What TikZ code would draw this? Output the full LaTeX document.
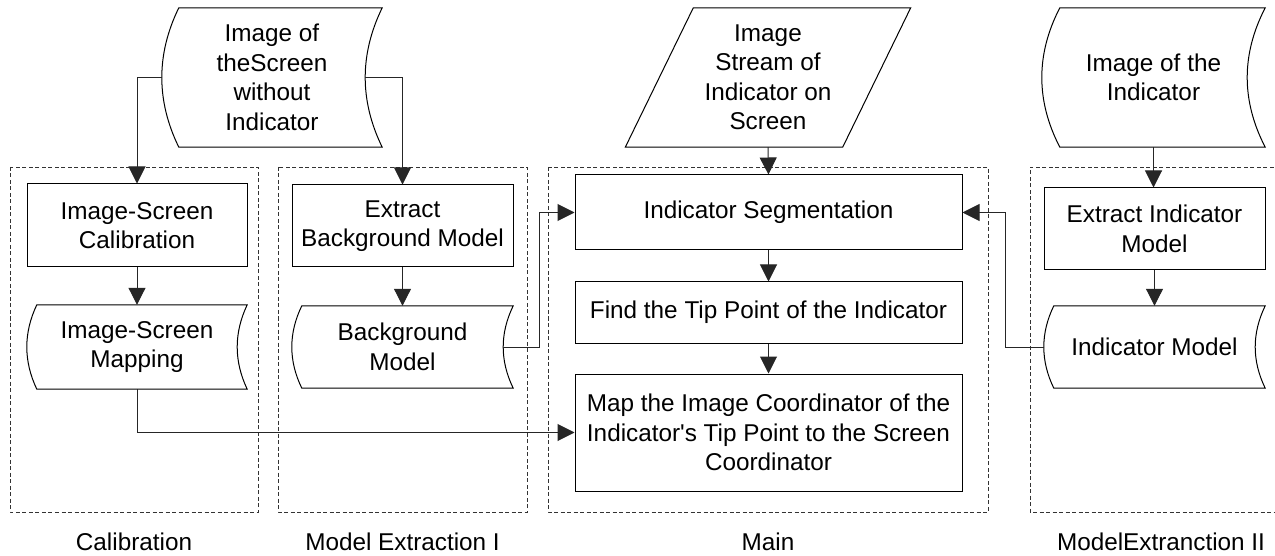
\documentclass[tikz,border=0pt]{standalone}
\usepackage{fontspec}
\setmainfont{Liberation Sans}[Ligatures=TeXOff]
\usetikzlibrary{calc,arrows.meta}
\newcommand\sdoutline[2]{%
  \draw[shapeline] ($(#1.north west)+(#2,0)$) -- (#1.north east)
    .. controls ($(#1.north east)!1/3!(#1.south east)+(-4/3*#2,0)$)
       and ($(#1.north east)!2/3!(#1.south east)+(-4/3*#2,0)$) .. (#1.south east)
    -- ($(#1.south west)+(#2,0)$)
    .. controls ($(#1.south west)!1/3!(#1.north west)+(-1/3*#2,0)$)
       and ($(#1.south west)!2/3!(#1.north west)+(-1/3*#2,0)$) .. cycle;}
\begin{document}
\begin{tikzpicture}[x=1pt,y=-1pt,
  font=\fontsize{24.3}{29.5}\selectfont,
  shapeline/.style={draw=black,line width=1pt},
  procbox/.style={draw=black,line width=1pt,inner sep=0pt,align=center},
  textbox/.style={inner sep=0pt,align=center},
  conn/.style={draw=black!85,line width=1pt,-{Triangle[length=17pt,width=17pt]}},
  container/.style={draw=black!80,line width=0.9pt,dash pattern=on 4pt off 2.5pt},
  grouplabel/.style={inner sep=0pt,anchor=base}]
\useasboundingbox (0,0) rectangle (1275,556);

% containers
\draw[container] (10,167) rectangle (258,512);
\draw[container] (278,167) rectangle (527,512);
\draw[container] (548,167) rectangle (988,512);
\draw[container] (1280,167) -| (1030,512) -- (1280,512);

% group labels
\node[grouplabel] (lcal) at (134,550) {Calibration};
\node[grouplabel] (lme1) at (402.5,550) {Model Extraction I};
\node[grouplabel] (lmain) at (768,550) {Main};
\node[grouplabel] (lme2) at (1161,550) {ModelExtranction II};

% stored data / inputs
\node[textbox,minimum width=220pt,minimum height=139pt] (scr) at (272,77.5)
  {Image of\\theScreen\\without\\Indicator};
\sdoutline{scr}{17}
\node[textbox,minimum width=220pt,minimum height=84pt] (mapping) at (137,347)
  {Image-Screen\\Mapping};
\sdoutline{mapping}{10}
\node[textbox,minimum width=221pt,minimum height=82pt] (bgm) at (402.5,347)
  {Background\\Model};
\sdoutline{bgm}{10}
\node[textbox,minimum width=223pt,minimum height=139pt] (imgind) at (1153.5,77.5)
  {Image of the\\Indicator};
\sdoutline{imgind}{18}
\node[textbox,minimum width=221pt,minimum height=82pt] (indm) at (1154.5,347)
  {Indicator Model};
\sdoutline{indm}{10}

\node[textbox,minimum width=285pt,minimum height=139pt] (stream) at (768,77.5)
  {Image\\Stream of\\Indicator on\\Screen};
\draw[shapeline] ($(stream.north west)+(68,0)$) -- (stream.north east)
  -- ($(stream.south east)+(-68,0)$) -- (stream.south west) -- cycle;

% process boxes
\node[procbox,minimum width=220pt,minimum height=83pt] (calib) at (137,225.5)
  {Image-Screen\\Calibration};
\node[procbox,minimum width=221pt,minimum height=82pt] (extbg) at (402.5,226)
  {Extract\\Background Model};
\node[procbox,minimum width=387pt,minimum height=75pt] (segm) at (768.5,212.5)
  {Indicator Segmentation};
\node[procbox,minimum width=387pt,minimum height=61pt] (tip) at (768.5,312.5)
  {Find the Tip Point of the Indicator};
\node[procbox,minimum width=387pt,minimum height=117pt] (mapbox) at (768.5,432.5)
  {Map the Image Coordinator of the\\Indicator's Tip Point to the Screen\\Coordinator};
\node[procbox,minimum width=221pt,minimum height=82pt] (extind) at (1154.5,229)
  {Extract Indicator\\Model};

% connectors
\draw[conn] (scr.west) -| (calib.north);
\draw[conn] ([xshift=-17pt]scr.east) -| (extbg.north);
\draw[conn] (calib.south) -- (mapping.north);
\draw[conn] (mapping.south) |- (mapbox.west);
\draw[conn] (extbg.south) -- (bgm.north);
\draw[conn] ([xshift=-10pt]bgm.east) -| ([xshift=-35pt]segm.west) -- (segm.west);
\draw[conn] (stream.south) -- (segm.north);
\draw[conn] (segm.south) -- (tip.north);
\draw[conn] (tip.south) -- (mapbox.north);
\draw[conn] (imgind.south) -- (imgind.south |- extind.north);
\draw[conn] (extind.south) -- (indm.north);
\draw[conn] (indm.west) -| ([xshift=43pt]segm.east) -- (segm.east);
\end{tikzpicture}
\end{document}
